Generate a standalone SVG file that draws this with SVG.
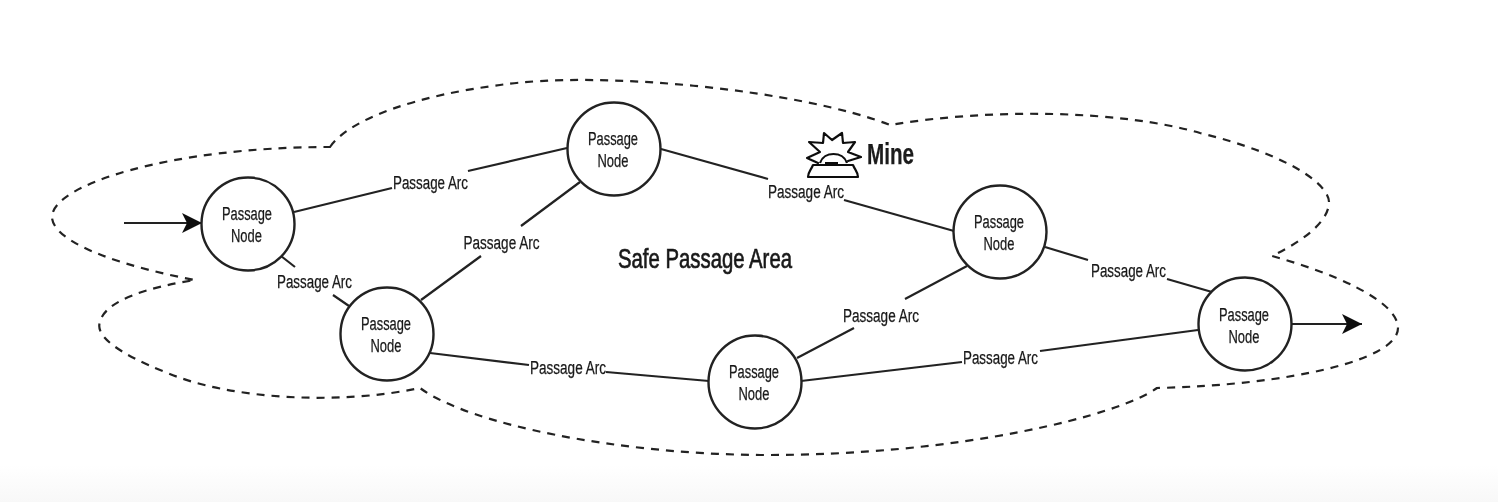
<svg xmlns="http://www.w3.org/2000/svg" width="1498" height="502" viewBox="0 0 1498 502">
<style>
.t{font-family:"Liberation Sans",Arial,sans-serif;fill:#1a1a1a;text-anchor:middle;stroke:#1a1a1a;stroke-width:.25}
.n{font-size:18px}
.c{fill:#fff;stroke:#222;stroke-width:2.4}
.e{stroke:#222;stroke-width:2.2;fill:none}
</style>
<defs>
<linearGradient id="g" x1="0" y1="0" x2="0" y2="1"><stop offset="0" stop-color="#fff"/><stop offset="1" stop-color="#f8f8f8"/></linearGradient>
<marker id="ah" markerUnits="userSpaceOnUse" markerWidth="22" markerHeight="22" refX="20" refY="10" orient="auto" viewBox="0 0 22 20"><path d="M0 0L20 10L0 20L5 10Z" fill="#111"/></marker>
<filter id="soft" x="0" y="0" width="1498" height="502" filterUnits="userSpaceOnUse"><feGaussianBlur stdDeviation="0.7"/></filter>
</defs>
<rect width="1498" height="502" fill="#fff"/>
<rect y="465" width="1498" height="37" fill="url(#g)"/>
<g filter="url(#soft)">
<path id="area" fill="none" stroke="#222" stroke-width="2.2" stroke-dasharray="8 7" d="M330 147C350 118 420 95 500 85C600 70 800 90 890 125C990 108 1120 110 1200 133C1290 155 1330 185 1329 203C1328 225 1295 245 1272 256C1330 272 1398 300 1398 328C1398 360 1290 385 1157 388C1120 415 960 456 760 455C620 454 470 425 420 388C340 405 230 400 165 372C115 352 95 335 100 322C105 300 150 287 195 280C130 268 55 245 52 218C50 185 170 147 330 147Z"/>
<g id="connectors">
<path class="e" d="M294 212L392 188M468 171L567 148"/>
<path class="e" d="M281 256L295 267M333 295L349 306"/>
<path class="e" d="M421 300L481 256M521 226L580 182"/>
<path class="e" d="M430 353L529 365M606 372L709 381"/>
<path class="e" d="M661 149L768 179M844 200L954 231"/>
<path class="e" d="M797 358L854 328M905 299L967 266"/>
<path class="e" d="M801 381L962 362M1040 351L1198 330"/>
<path class="e" d="M1045 247L1088 260M1167 279L1212 292"/>
<line class="e" marker-end="url(#ah)" x1="124" y1="223" x2="202" y2="223"/>
<line class="e" marker-end="url(#ah)" x1="1291" y1="324" x2="1362" y2="324"/>
<g id="arc-labels">
<text class="t n" x="430.500" y="189" textLength="75" lengthAdjust="spacingAndGlyphs">Passage Arc</text>
<text class="t n" x="314.500" y="288" textLength="75" lengthAdjust="spacingAndGlyphs">Passage Arc</text>
<text class="t n" x="501.500" y="249" textLength="76" lengthAdjust="spacingAndGlyphs">Passage Arc</text>
<text class="t n" x="568" y="374" textLength="76" lengthAdjust="spacingAndGlyphs">Passage Arc</text>
<text class="t n" x="806" y="198" textLength="76" lengthAdjust="spacingAndGlyphs">Passage Arc</text>
<text class="t n" x="881" y="322" textLength="76" lengthAdjust="spacingAndGlyphs">Passage Arc</text>
<text class="t n" x="1000.500" y="364" textLength="75" lengthAdjust="spacingAndGlyphs">Passage Arc</text>
<text class="t n" x="1128.500" y="277" textLength="75" lengthAdjust="spacingAndGlyphs">Passage Arc</text>
</g>
</g>
<g id="node1"><circle class="c" cx="248" cy="224" r="46.500"/><text class="t n" x="247" y="220" textLength="50" lengthAdjust="spacingAndGlyphs">Passage</text><text class="t n" x="246.500" y="242" textLength="31" lengthAdjust="spacingAndGlyphs">Node</text></g>
<g id="node2"><circle class="c" cx="387" cy="334" r="46.500"/><text class="t n" x="386" y="330" textLength="50" lengthAdjust="spacingAndGlyphs">Passage</text><text class="t n" x="386" y="352" textLength="31" lengthAdjust="spacingAndGlyphs">Node</text></g>
<g id="node3"><circle class="c" cx="614" cy="149" r="46.500"/><text class="t n" x="613" y="145" textLength="50" lengthAdjust="spacingAndGlyphs">Passage</text><text class="t n" x="613" y="167" textLength="31" lengthAdjust="spacingAndGlyphs">Node</text></g>
<g id="node4"><circle class="c" cx="755" cy="382" r="46.500"/><text class="t n" x="754" y="378" textLength="50" lengthAdjust="spacingAndGlyphs">Passage</text><text class="t n" x="754" y="400" textLength="31" lengthAdjust="spacingAndGlyphs">Node</text></g>
<g id="node5"><circle class="c" cx="1000" cy="232" r="46.500"/><text class="t n" x="999" y="228" textLength="50" lengthAdjust="spacingAndGlyphs">Passage</text><text class="t n" x="999" y="250" textLength="31" lengthAdjust="spacingAndGlyphs">Node</text></g>
<g id="node6"><circle class="c" cx="1245" cy="324" r="46.500"/><text class="t n" x="1244" y="321" textLength="50" lengthAdjust="spacingAndGlyphs">Passage</text><text class="t n" x="1244" y="343" textLength="31" lengthAdjust="spacingAndGlyphs">Node</text></g>
<text id="area-label" class="t" x="705" y="268" font-size="28" style="stroke-width:.7" textLength="174" lengthAdjust="spacingAndGlyphs">Safe Passage Area</text>
<g id="mine">
<path fill="none" stroke="#111" stroke-width="2.2" stroke-linejoin="round" stroke-linecap="round" d="M818 163L807 158L820 152L809 142L823 143L824 133L832 140L842 133L843 143L855 142L848 152L861 157L848 161"/>
<path fill="none" stroke="#111" stroke-width="2.2" d="M820 163C824 151 843 151 847 163"/>
<path fill="#fff" stroke="#111" stroke-width="2.2" stroke-linejoin="round" d="M813 165H853C855 170 858 172 858 177H808C808 172 811 170 813 165Z"/>
<path fill="#111" d="M825 162H838V165H825Z"/>
<text class="t" x="890.500" y="164" font-size="29" font-weight="bold" textLength="47" lengthAdjust="spacingAndGlyphs">Mine</text>
</g>
</g>
</svg>
